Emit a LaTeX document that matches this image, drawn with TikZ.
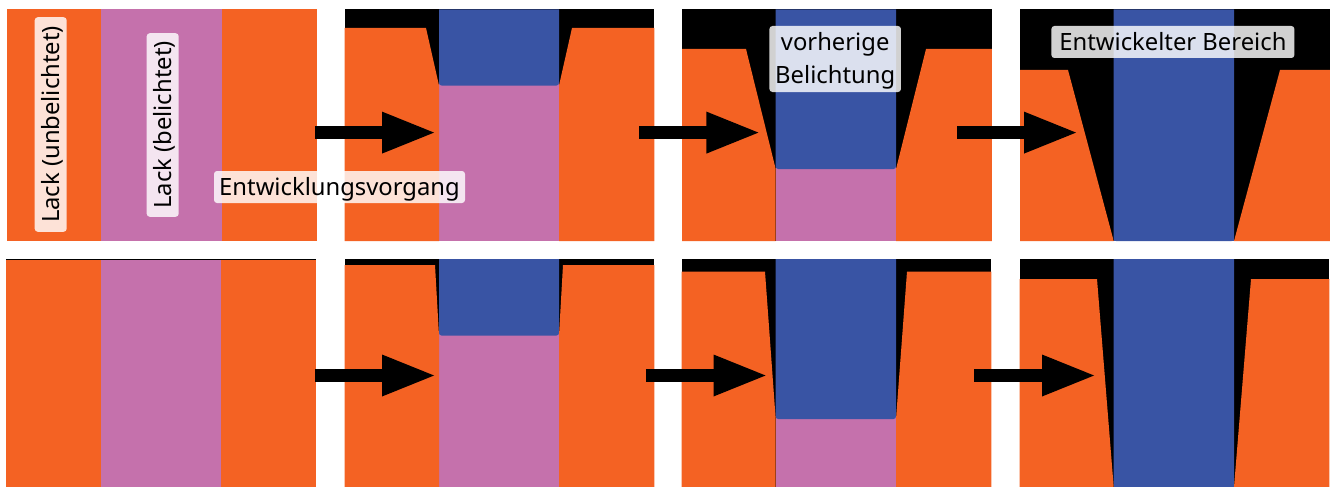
\documentclass[tikz,border=0pt]{standalone}
\usepackage{fontspec}
\setmainfont{Noto Sans}
\usetikzlibrary{arrows.meta}
\definecolor{resist}{HTML}{F46223}
\definecolor{exposed}{HTML}{C571AC}
\definecolor{developer}{HTML}{3954A4}
\tikzset{
  flowarrow/.style={line width=12.7pt,draw=black,-{Triangle[length=54.5pt,width=37.7pt]},shorten >=-2.5pt},
  tag/.style={fill=white,fill opacity=.82,text opacity=1,rounded corners=3pt,inner sep=0pt,
    font=\fontsize{23.8pt}{33pt}\selectfont,align=center,text=black},
  oneline/.style={tag,text height=20pt,text depth=3pt}
}
% One development stage: #1 left edge, #2/#3 exposed zone, #4/#5 upper resist corners,
% #6 top, #7 bottom, #8 resist surface, #9 development front
\newcommand{\devstage}[9]{%
  \fill[black] (#1,#6) rectangle (#1+309.8,#7);
  \fill[exposed] (#2,#9-3) rectangle (#3,#7);
  \fill[developer] (#2,#6) -- (#3,#6) -- (#3,#9-2.5) arc[start angle=0,end angle=90,radius=2.5]
    -- (#2+2.5,#9) arc[start angle=90,end angle=180,radius=2.5] -- cycle;
  \fill[resist] (#1,#8) -- (#4,#8) -- (#2,#9) -- (#2,#7) -- (#1,#7) -- cycle;
  \fill[resist] (#1+309.8,#8) -- (#5,#8) -- (#3,#9) -- (#3,#7) -- (#1+309.8,#7) -- cycle;
}
\begin{document}
\begin{tikzpicture}[x=1pt,y=-1pt]
  \useasboundingbox (0,0) rectangle (1333,487);

  % Upper row: initial resist and three development stages
  \fill[resist] (7,9.5) rectangle (316.5,241);
  \fill[exposed] (101,9.5) rectangle (221.5,241);
  \devstage{344.5}{439}{559}{426}{572}{9.5}{241}{28}{85.5}
  \devstage{682}{775.7}{896}{746}{926}{9.5}{241}{49}{169}
  \devstage{1020}{1113.7}{1234}{1068}{1280}{9.5}{241}{70}{241}
  \fill[developer] (1113.7,230) rectangle (1234,241);

  % Lower row: initial resist and three development stages
  \fill[black] (6,259) rectangle (316,487);
  \fill[resist] (6,259.7) rectangle (316,487);
  \fill[exposed] (100.6,259.7) rectangle (221,487);
  \devstage{344.5}{439}{559}{435}{563}{259}{487}{265}{335.5}
  \devstage{681.5}{775.7}{896}{765}{907}{259}{487}{271.7}{419}
  \devstage{1019.5}{1113.7}{1234}{1097}{1251}{259}{487}{279}{487}
  \fill[developer] (1113.7,476) rectangle (1234,487);

  % Process arrows
  \coordinate (u1s) at (315,132.6);  \coordinate (u1e) at (434,132.6);
  \coordinate (u2s) at (639,132.6);  \coordinate (u2e) at (758.4,132.6);
  \coordinate (u3s) at (957,132.6);  \coordinate (u3e) at (1076,132.6);
  \coordinate (l1s) at (315,375.5);  \coordinate (l1e) at (434,375.5);
  \coordinate (l2s) at (646,375.5);  \coordinate (l2e) at (765.5,375.5);
  \coordinate (l3s) at (974,375.5);  \coordinate (l3e) at (1094,375.5);
  \draw[flowarrow] (u1s) -- (u1e);
  \draw[flowarrow] (u2s) -- (u2e);
  \draw[flowarrow] (u3s) -- (u3e);
  \draw[flowarrow] (l1s) -- (l1e);
  \draw[flowarrow] (l2s) -- (l2e);
  \draw[flowarrow] (l3s) -- (l3e);

  % Labels
  \node[oneline,rotate=90,minimum width=214.5pt,minimum height=32pt] (unexposed) at (50.7,124.5) {Lack (unbelichtet)};
  \node[oneline,rotate=90,minimum width=183.5pt,minimum height=32pt] (exposedlabel) at (162.7,125) {Lack (belichtet)};
  \node[oneline,minimum width=251pt,minimum height=32pt] (process) at (339.5,187) {Entwicklungsvorgang};
  \node[tag,minimum width=131.5pt,minimum height=66pt] (previous) at (835.2,59) {\rule{0pt}{22pt}vorherige\\Belichtung};
  \node[oneline,minimum width=243pt,minimum height=32pt] (developed) at (1172.9,42) {Entwickelter Bereich};
\end{tikzpicture}
\end{document}
